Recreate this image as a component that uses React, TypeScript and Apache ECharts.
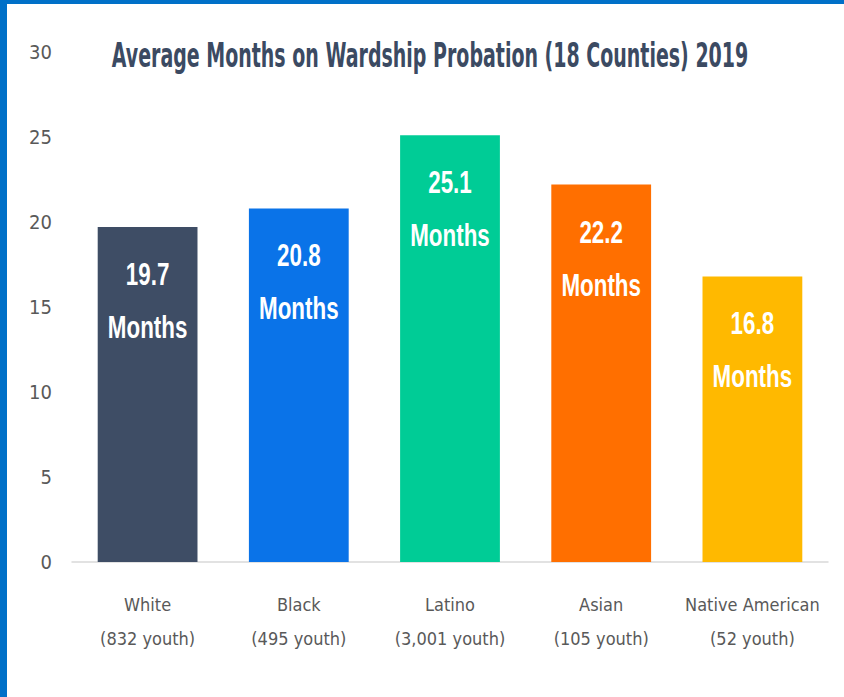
import React, { useEffect, useRef } from "react";
import * as echarts from "echarts";

const categories = ["White", "Black", "Latino", "Asian", "Native American"];
const youthCounts = ["832 youth", "495 youth", "3,001 youth", "105 youth", "52 youth"];
const values = [19.7, 20.8, 25.1, 22.2, 16.8];
const colors = ["#3e4d65", "#0a73e8", "#00cc96", "#ff6f00", "#ffb900"];
const unitText = "Months";
const titleText = "Average Months on Wardship Probation (18 Counties) 2019";

const FONT = "'Liberation Sans', Arial, sans-serif";
const COND = "'DejaVu Sans Condensed', 'DejaVu Sans', sans-serif";
const TITLE_FONT = "'DejaVu Sans', sans-serif";

export default function App() {
  const ref = useRef<HTMLDivElement>(null);
  useEffect(() => {
    if (!ref.current) return;
    const chart = echarts.init(ref.current, null, { renderer: "svg" });
    chart.setOption({
      animation: false,
      backgroundColor: "#ffffff",
      textStyle: { fontFamily: FONT },
      graphic: [
        { type: "rect", left: 0, top: 0, shape: { width: 844, height: 4 }, style: { fill: "#0070c8" } },
        { type: "rect", left: 0, top: 0, shape: { width: 7, height: 697 }, style: { fill: "#0070c8" } },
        {
          type: "text",
          x: 430,
          y: 55,
          scaleX: 0.576,
          style: {
            text: titleText,
            fill: "#3b4a62",
            font: `bold 33px ${TITLE_FONT}`,
            align: "center",
            verticalAlign: "middle",
          },
        },
      ],
      grid: { left: 72, right: 16, top: 52, bottom: 135 },
      xAxis: {
        type: "category",
        data: categories.map((c, i) => `${c}\n(${youthCounts[i]})`),
        axisLine: { lineStyle: { color: "#d9d9d9", width: 1.5 } },
        axisTick: { show: false },
        axisLabel: {
          interval: 0,
          color: "#595959",
          fontSize: 18,
          lineHeight: 34,
          margin: 25,
          fontFamily: COND,
        },
      },
      yAxis: {
        type: "value",
        min: 0,
        max: 30,
        interval: 5,
        splitLine: { show: false },
        axisLine: { show: false },
        axisTick: { show: false },
        axisLabel: { color: "#595959", fontSize: 20, margin: 20, fontFamily: COND },
      },
      series: [
        {
          type: "bar",
          data: values.map((v, i) => ({ value: v, itemStyle: { color: colors[i] } })),
          barCategoryGap: "34%",
        },
        {
          type: "custom",
          z: 5,
          data: values.map((v, i) => [i, v]),
          renderItem: (params: any, api: any) => {
            const v = api.value(1);
            const pt = api.coord([api.value(0), v]);
            const common = {
              fill: "#ffffff",
              font: `bold 32px ${FONT}`,
              align: "center",
              verticalAlign: "middle",
            };
            return {
              type: "group",
              children: [
                {
                  type: "text",
                  x: pt[0],
                  y: pt[1] + 47,
                  scaleX: 0.7,
                  style: { ...common, text: Number(v).toFixed(1) },
                },
                {
                  type: "text",
                  x: pt[0],
                  y: pt[1] + 100,
                  scaleX: 0.7,
                  style: { ...common, text: unitText },
                },
              ],
            };
          },
        },
      ],
    });
    return () => chart.dispose();
  }, []);
  return (
    <div style={{ position: "fixed", left: 0, top: 0, width: 844, height: 697 }}>
      <div ref={ref} style={{ width: 844, height: 697 }} />
    </div>
  );
}
